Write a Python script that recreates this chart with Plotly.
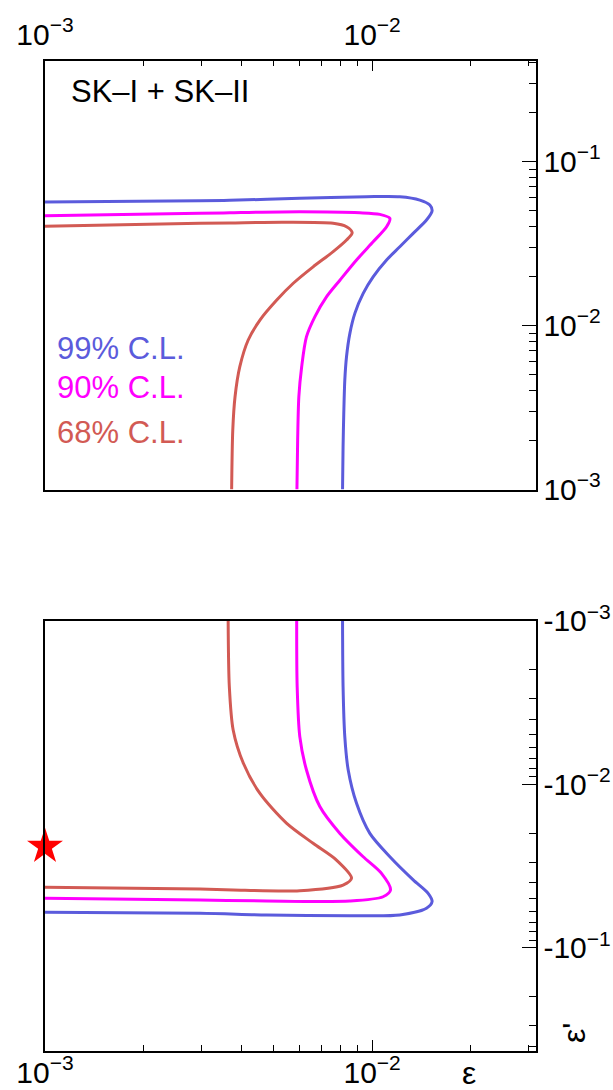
import plotly.graph_objects as go

# ---------------- data (epsilon, epsilon') ----------------
# Top panel: epsilon' > 0
blue_top_eps = [0.00100, 0.00298, 0.00367, 0.00601, 0.00961, 0.01215, 0.01399, 0.01501, 0.01525, 0.01466, 0.01335,
                0.01215, 0.01107, 0.01007, 0.00939, 0.00886, 0.00855, 0.00835, 0.00825, 0.00819, 0.00815, 0.00812]
blue_top_epsp = [0.0566, 0.0577, 0.0580, 0.0597, 0.0610, 0.0610, 0.0582, 0.0543, 0.0501, 0.0440, 0.0365,
                 0.0302, 0.0251, 0.0198, 0.0157, 0.0119, 0.00896, 0.00645, 0.00465, 0.00291, 0.00182, 0.00100]

magenta_top_eps = [0.00100, 0.00298, 0.00367, 0.00601, 0.00917, 0.01056, 0.01133, 0.01107, 0.01007, 0.00896,
                   0.00797, 0.00726, 0.00668, 0.00630, 0.00609, 0.00597, 0.00592, 0.00589]
magenta_top_epsp = [0.0467, 0.0483, 0.0487, 0.0494, 0.0487, 0.0476, 0.0450, 0.0400, 0.0324, 0.0251,
                    0.0189, 0.0150, 0.0113, 0.00855, 0.00561, 0.00368, 0.00200, 0.00100]

red_top_eps = [0.00100, 0.00298, 0.00367, 0.00535, 0.00760, 0.00835, 0.00869, 0.00835, 0.00760, 0.00660,
               0.00574, 0.00511, 0.00454, 0.00418, 0.00394, 0.00381, 0.00375, 0.00372]
red_top_epsp = [0.0403, 0.0420, 0.0422, 0.0426, 0.0420, 0.0400, 0.0368, 0.0332, 0.0282, 0.0228,
                0.0181, 0.0143, 0.0108, 0.00816, 0.00561, 0.00368, 0.00231, 0.00100]

# Bottom panel: epsilon' < 0
blue_bot_eps = [0.00812, 0.00815, 0.00825, 0.00845, 0.00896, 0.00984, 0.01133, 0.01335, 0.01483, 0.01525,
                0.01466, 0.01215, 0.00855, 0.00476, 0.00298, 0.00100]
blue_bot_epsp = [-0.00100, -0.00253, -0.00512, -0.00819, -0.0131, -0.0200, -0.0278, -0.0385, -0.0465, -0.0523,
                 -0.0574, -0.0631, -0.0637, -0.0631, -0.0616, -0.0608]

magenta_bot_eps = [0.00588, 0.00590, 0.00601, 0.00630, 0.00692, 0.00797, 0.00939, 0.01068, 0.01138, 0.01080,
                   0.00855, 0.00476, 0.00298, 0.00100]
magenta_bot_epsp = [-0.00100, -0.00253, -0.00512, -0.00819, -0.0137, -0.0200, -0.0278, -0.0351, -0.0444, -0.0488,
                    -0.0518, -0.0518, -0.0511, -0.0499]

red_bot_eps = [0.00363, 0.00366, 0.00376, 0.00404, 0.00454, 0.00547, 0.00660, 0.00778, 0.00865, 0.00815,
               0.00601, 0.00376, 0.00298, 0.00100]
red_bot_epsp = [-0.00100, -0.00253, -0.00466, -0.00745, -0.0114, -0.0173, -0.0230, -0.0291, -0.0376, -0.0414,
                -0.0448, -0.0444, -0.0438, -0.0427]

best_fit_eps = [0.00100]
best_fit_epsp = [-0.0241]

x_major = [1e-3, 1e-2]
x_major_text = ["10<sup>\u22123</sup>", "10<sup>\u22122</sup>"]
x_minor = [k * 1e-3 for k in range(2, 10)] + [k * 1e-2 for k in range(2, 4)]
y_major = [1e-3, 1e-2, 1e-1]
y_top_text = ["10<sup>\u22123</sup>", "10<sup>\u22122</sup>", "10<sup>\u22121</sup>"]
y_bot_text = ["-10<sup>\u22123</sup>", "-10<sup>\u22122</sup>", "-10<sup>\u22121</sup>"]
y_minor = [k * 1e-3 for k in range(2, 10)] + [k * 1e-2 for k in range(2, 10)] + [k * 1e-1 for k in range(2, 5)]

cl_labels = ["99% C.L.", "90% C.L.", "68% C.L."]

# ---------------- styling ----------------
W, H = 613, 1090
BLUE = "#5b5bdc"
MAGENTA = "#ff00ff"
RED = "#d25a54"
FONT = "Liberation Sans, Arial, Helvetica, sans-serif"


def fx(p):
    return p / W


def fy(p):
    return 1 - p / H


fig = go.Figure()

line_style = dict(width=3, shape="spline", smoothing=0.8)

for xs, ys, col in [(blue_top_eps, blue_top_epsp, BLUE),
                    (magenta_top_eps, magenta_top_epsp, MAGENTA),
                    (red_top_eps, red_top_epsp, RED)]:
    fig.add_trace(go.Scatter(x=xs, y=ys, mode="lines", line=dict(color=col, **line_style),
                             xaxis="x", yaxis="y", showlegend=False, hoverinfo="skip"))

for xs, ys, col in [(blue_bot_eps, blue_bot_epsp, BLUE),
                    (magenta_bot_eps, magenta_bot_epsp, MAGENTA),
                    (red_bot_eps, red_bot_epsp, RED)]:
    fig.add_trace(go.Scatter(x=xs, y=[-v for v in ys], mode="lines", line=dict(color=col, **line_style),
                             xaxis="x2", yaxis="y2", showlegend=False, hoverinfo="skip"))

fig.add_trace(go.Scatter(x=best_fit_eps, y=[-v for v in best_fit_epsp], mode="markers",
                         marker=dict(symbol="star", size=27, color="#ff0000", line=dict(width=0)),
                         cliponaxis=False, xaxis="x2", yaxis="y2", showlegend=False, hoverinfo="skip"))

xdom = [fx(45), fx(535.7)]
axis_common = dict(type="log", showline=True, linecolor="black", linewidth=1.5, mirror=True,
                   ticks="inside", tickcolor="black", tickwidth=1, showgrid=False, zeroline=False,
                   automargin=False,
                   tickfont=dict(family=FONT, size=30, color="black"))

fig.update_layout(
    width=W, height=H,
    margin=dict(l=0, r=0, t=0, b=0, autoexpand=False),
    paper_bgcolor="white", plot_bgcolor="white",
    font=dict(family=FONT, color="black"),
    showlegend=False,
    xaxis=dict(axis_common, domain=xdom, range=[-3, -1.5], side="top", anchor="y",
               tickvals=x_major, ticktext=x_major_text, ticklen=11, ticklabelstandoff=2,
               minor=dict(ticks="inside", ticklen=6, tickvals=x_minor, tickcolor="black", tickwidth=1)),
    yaxis=dict(axis_common, domain=[fy(489.5), fy(60.7)], range=[-3, -0.385], side="right", anchor="x",
               tickvals=y_major, ticktext=y_top_text, ticklen=14, ticklabelstandoff=0,
               minor=dict(ticks="inside", ticklen=7, tickvals=y_minor, tickcolor="black", tickwidth=1)),
    xaxis2=dict(axis_common, domain=xdom, range=[-3, -1.5], side="bottom", anchor="y2",
                tickvals=x_major, ticktext=x_major_text, ticklen=11, ticklabelstandoff=-6,
                minor=dict(ticks="inside", ticklen=6, tickvals=x_minor, tickcolor="black", tickwidth=1)),
    yaxis2=dict(axis_common, domain=[fy(1051), fy(620.7)], range=[-0.368, -3], side="right", anchor="x2",
                tickvals=y_major, ticktext=y_bot_text, ticklen=14, ticklabelstandoff=0,
                minor=dict(ticks="inside", ticklen=7, tickvals=y_minor, tickcolor="black", tickwidth=1)),
)

annotations = [
    dict(text="SK\u2013I + SK\u2013II", x=fx(69), y=fy(91), xanchor="left", yanchor="middle",
         font=dict(size=31, color="black")),
    dict(text="\u03b5", x=fx(469), y=fy(1073), xanchor="center", yanchor="middle",
         font=dict(size=32, color="black")),
    dict(text="\u03b5'", x=fx(574), y=fy(1033), xanchor="center", yanchor="middle", textangle=-90,
         font=dict(size=32, color="black")),
]
for lab, col, yc in zip(cl_labels, [BLUE, MAGENTA, RED], [348.5, 387.5, 432]):
    annotations.append(dict(text=lab, x=fx(55), y=fy(yc), xanchor="left", yanchor="middle",
                            font=dict(size=31, color=col)))
for a in annotations:
    a.update(xref="paper", yref="paper", showarrow=False)
fig.update_layout(annotations=annotations)

fig.write_html("out.html", config={"displayModeBar": False},
               post_script="document.body.style.margin='0';document.body.style.overflow='hidden';")
